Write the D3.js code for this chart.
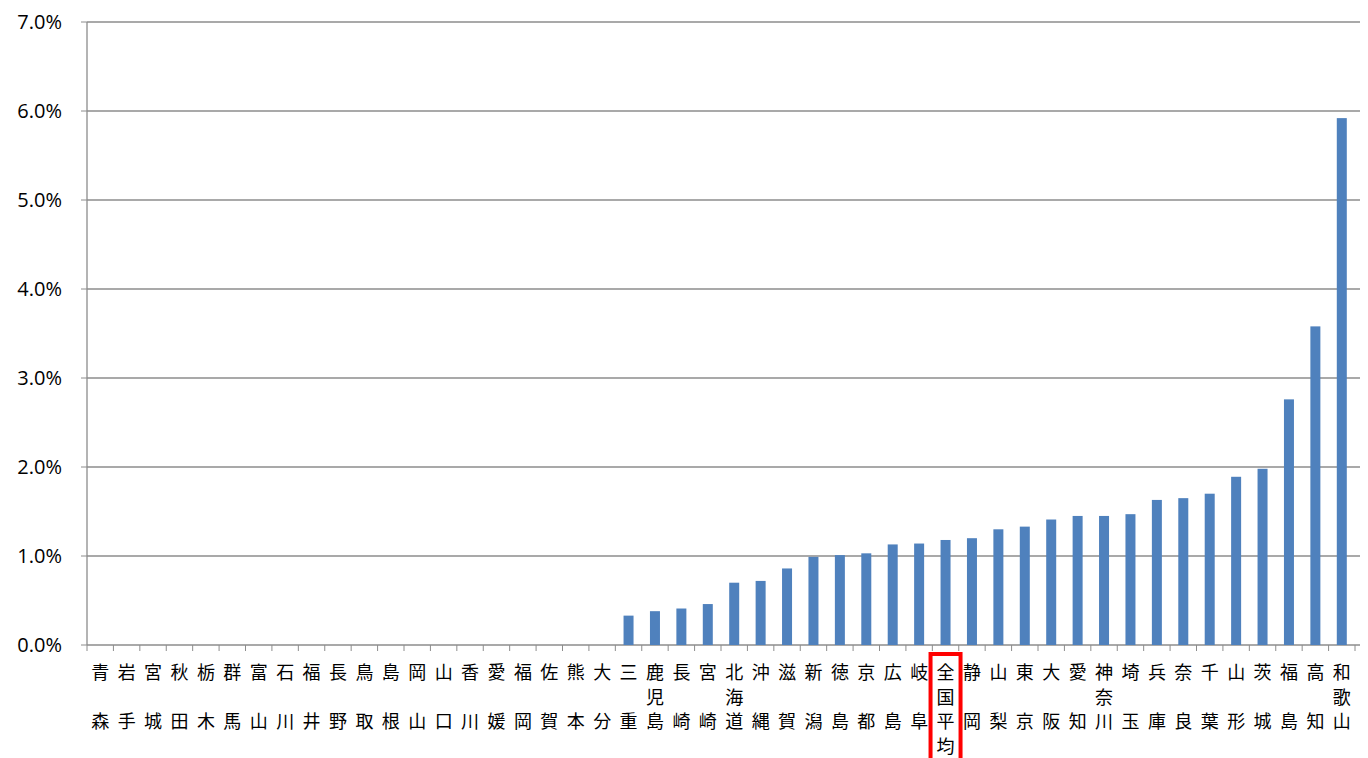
<!DOCTYPE html>
<html>
<head>
<meta charset="utf-8">
<script src="https://cdn.jsdelivr.net/npm/d3@7"></script>
<style>
body{margin:0;background:#fff;}
text{font-family:"Noto Sans CJK JP","Open Sans",sans-serif;fill:#000;}
</style>
</head>
<body>
<svg id="chart" width="1368" height="758"></svg>
<script>
var prefs = ["青森","岩手","宮城","秋田","栃木","群馬","富山","石川","福井","長野","鳥取","島根","岡山","山口","香川","愛媛","福岡","佐賀","熊本","大分","三重","鹿児島","長崎","宮崎","北海道","沖縄","滋賀","新潟","徳島","京都","広島","岐阜","全国平均","静岡","山梨","東京","大阪","愛知","神奈川","埼玉","兵庫","奈良","千葉","山形","茨城","福島","高知","和歌山"];
var rates = [0,0,0,0,0,0,0,0,0,0,0,0,0,0,0,0,0,0,0,0,
  0.33,0.38,0.41,0.46,0.70,0.72,0.86,0.99,1.01,1.03,1.13,1.14,1.18,1.20,1.30,1.33,1.41,1.45,1.45,1.47,1.63,1.65,1.70,1.89,1.98,2.76,3.58,5.92];
var yTicks = [0,1,2,3,4,5,6,7];
var highlight = "全国平均";

var svg = d3.select("#chart");
var mLeft = 87, mRight = 1360, mTop = 22, mBottom = 645;
var x = d3.scaleBand().domain(prefs).range([mLeft, 1355]);
var y = d3.scaleLinear().domain([0,7]).range([mBottom, mTop]);

svg.selectAll(".grid").data(yTicks).enter().append("line")
  .attr("x1", mLeft).attr("x2", mRight)
  .attr("y1", function(d){return y(d);}).attr("y2", function(d){return y(d);})
  .attr("stroke", "#8c8c8c").attr("stroke-width", 1.3);
svg.selectAll(".yl").data(yTicks).enter().append("text")
  .attr("x", 62).attr("y", function(d){return y(d)+7;})
  .attr("text-anchor","end").style("font-size","20px").style("font-family","'Open Sans',sans-serif")
  .text(function(d){return d.toFixed(1)+"%";});
svg.append("line").attr("x1",mLeft).attr("x2",mLeft).attr("y1",mTop).attr("y2",mBottom)
  .attr("stroke","#8c8c8c").attr("stroke-width",1.3);
svg.selectAll(".yt").data(yTicks).enter().append("line")
  .attr("x1",mLeft-6).attr("x2",mLeft).attr("y1",function(d){return y(d);}).attr("y2",function(d){return y(d);})
  .attr("stroke","#8c8c8c");
svg.selectAll(".xt").data(prefs.concat([null])).enter().append("line")
  .attr("x1",function(d,i){return mLeft+i*x.step();}).attr("x2",function(d,i){return mLeft+i*x.step();})
  .attr("y1",mBottom).attr("y2",mBottom+6).attr("stroke","#8c8c8c");

svg.selectAll(".bar").data(prefs).enter().append("rect")
  .attr("x", function(d){return x(d)+x.bandwidth()/2-5;})
  .attr("width", 10)
  .attr("y", function(d,i){return y(rates[i]);})
  .attr("height", function(d,i){return mBottom-y(rates[i]);})
  .attr("fill", "#4f81bd");

prefs.forEach(function(p){
  var chars = p.split("");
  var rows = chars.length===2 ? [0,2] : chars.map(function(c,i){return i;});
  chars.forEach(function(c,i){
    svg.append("text").attr("x", x(p)+x.bandwidth()/2).attr("y", 679+rows[i]*24.5)
      .attr("text-anchor","middle").style("font-size","18px").text(c);
  });
});

svg.append("rect").attr("x", x(highlight)+x.bandwidth()/2-15).attr("y",654)
  .attr("width",30).attr("height",120).attr("fill","none")
  .attr("stroke","#ff0000").attr("stroke-width",4);
</script>
</body>
</html>
